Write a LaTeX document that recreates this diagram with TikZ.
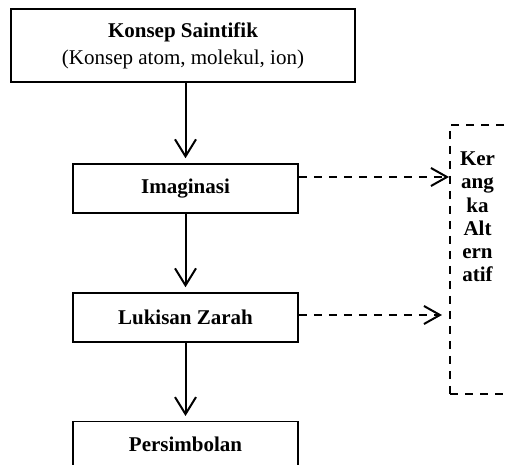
\documentclass[tikz,border=0pt]{standalone}
\usepackage{fontspec}
\setmainfont{Liberation Serif}
\usetikzlibrary{arrows.meta}
\begin{document}
\begin{tikzpicture}[x=1pt,y=-1pt,
  every node/.style={font=\fontsize{21}{27}\selectfont},
  box/.style={draw,line width=1.5pt,inner sep=0pt,minimum height=49pt,minimum width=225pt,font=\fontsize{21}{27}\selectfont\bfseries},
  arr/.style={line width=2pt,-{Straight Barb[length=17pt,width=21pt,line width=2pt]},shorten >=5pt},
  darr/.style={line width=2pt,dash pattern=on 8pt off 7pt,-{Straight Barb[length=16pt,width=18pt,line width=2pt]}},
  dbox/.style={draw,line width=2pt,dash pattern=on 8pt off 7pt,inner sep=0pt}]
\useasboundingbox (0,0) rectangle (507,465);
\clip (0,0) rectangle (507,465);
\node[draw,line width=1.5pt,inner sep=0pt,minimum width=344pt,minimum height=73pt,align=center] (top) at (183,45.5)
  {\textbf{Konsep Saintifik}\\(Konsep atom, molekul, ion)};
\node[box] (imag) at (185.5,188.5) {Imaginasi};
\node[box] (luk) at (185.5,317.5) {Lukisan Zarah};
\node[box,text depth=0pt,anchor=north] (sim) at (185.5,421) {};
\node[font=\fontsize{21}{27}\selectfont\bfseries] (simt) at (185.5,444) {Persimbolan};
\node[dbox,minimum width=80pt,minimum height=269pt] (alt) at (490,259.5) {};
\node[font=\fontsize{21}{23.3}\selectfont\bfseries,align=center,anchor=north,inner sep=0pt] (altt) at (477.5,151.5)
  {Ker\\ang\\ka\\Alt\\ern\\atif};
\draw[arr] (top.south -| imag.north) -- (imag.north);
\draw[arr] (imag.south) -- (luk.north);
\draw[arr] (luk.south) -- (sim.north);
\draw[darr] ([yshift=11.5pt]imag.east) -- ([yshift=11.5pt]imag.east -| alt.west);
\draw[darr,shorten >=7pt] ([yshift=2.5pt]luk.east) -- ([yshift=2.5pt]luk.east -| alt.west);
\end{tikzpicture}
\end{document}
